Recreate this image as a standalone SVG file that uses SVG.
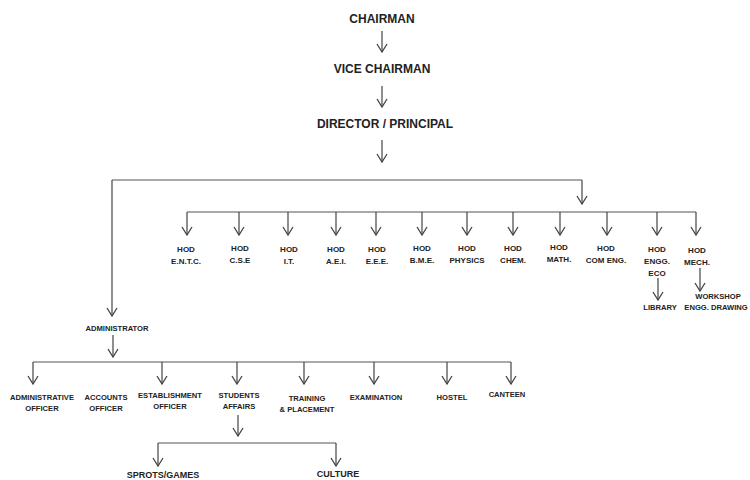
<svg xmlns="http://www.w3.org/2000/svg" width="750" height="480" viewBox="0 0 750 480">
<defs>
<marker id="ah" viewBox="0 0 10 12" refX="9" refY="6" markerWidth="10" markerHeight="12" markerUnits="userSpaceOnUse" orient="auto">
<path d="M1,1 L9,6 L1,11" fill="none" stroke="#444" stroke-width="1.3"/>
</marker>
<style>
.c{fill:none;stroke:#555;stroke-width:1.2}
.a{fill:none;stroke:#444;stroke-width:1.2;marker-end:url(#ah)}
text{font-family:"Liberation Sans",Arial,sans-serif;font-weight:bold;fill:#222;text-anchor:middle}
.big{font-size:12px}
.s{font-size:7.6px}
.h{font-size:8px}
.m{font-size:9px}
</style>
</defs>
<rect width="750" height="480" fill="#fff"/>
<g id="connectors">
<path class="a" d="M382,31 V52"/>
<path class="a" d="M382,86 V107"/>
<path class="a" d="M382,140 V162"/>
<path class="c" d="M582,180 H112"/>
<path class="a" d="M582,180 V204"/>
<path class="a" d="M112,180 V316"/>
<path class="c" d="M187,212 H696"/>
<path class="a" d="M187,212 V235"/>
<path class="a" d="M239,212 V235"/>
<path class="a" d="M288,212 V235"/>
<path class="a" d="M336,212 V235"/>
<path class="a" d="M376,212 V235"/>
<path class="a" d="M422,212 V235"/>
<path class="a" d="M467,212 V235"/>
<path class="a" d="M513,212 V235"/>
<path class="a" d="M560,212 V235"/>
<path class="a" d="M607,212 V235"/>
<path class="a" d="M657,212 V235"/>
<path class="a" d="M696,212 V235"/>
<path class="a" d="M658,278 V300"/>
<path class="a" d="M700,268 V291"/>
<path class="a" d="M113,335 V357"/>
<path class="c" d="M33,362 H511"/>
<path class="a" d="M33,362 V384"/>
<path class="a" d="M162,362 V384"/>
<path class="a" d="M237,362 V384"/>
<path class="a" d="M304,362 V384"/>
<path class="a" d="M374,362 V384"/>
<path class="a" d="M447,362 V384"/>
<path class="a" d="M511,362 V384"/>
<path class="a" d="M238,415 V436"/>
<path class="c" d="M158,443 H336"/>
<path class="a" d="M158,443 V466"/>
<path class="a" d="M336,443 V466"/>
</g>
<g id="chairman"><text class="big" x="382" y="23">CHAIRMAN</text></g>
<g id="vice-chairman"><text class="big" x="382" y="73">VICE CHAIRMAN</text></g>
<g id="director"><text class="big" x="385" y="128">DIRECTOR / PRINCIPAL</text></g>
<g id="hod-entc"><text class="h" x="186" y="252">HOD</text><text class="h" x="186" y="264">E.N.T.C.</text></g>
<g id="hod-cse"><text class="h" x="240" y="251">HOD</text><text class="h" x="240" y="263">C.S.E</text></g>
<g id="hod-it"><text class="h" x="289" y="252">HOD</text><text class="h" x="289" y="264">I.T.</text></g>
<g id="hod-aei"><text class="h" x="336" y="252">HOD</text><text class="h" x="336" y="264">A.E.I.</text></g>
<g id="hod-eee"><text class="h" x="377" y="252">HOD</text><text class="h" x="377" y="264">E.E.E.</text></g>
<g id="hod-bme"><text class="h" x="422" y="251">HOD</text><text class="h" x="422" y="263">B.M.E.</text></g>
<g id="hod-physics"><text class="h" x="467" y="251">HOD</text><text class="h" x="467" y="263">PHYSICS</text></g>
<g id="hod-chem"><text class="h" x="513" y="251">HOD</text><text class="h" x="513" y="263">CHEM.</text></g>
<g id="hod-math"><text class="h" x="559" y="250">HOD</text><text class="h" x="559" y="262">MATH.</text></g>
<g id="hod-comeng"><text class="h" x="606" y="251">HOD</text><text class="h" x="606" y="263">COM ENG.</text></g>
<g id="hod-enggeco"><text class="h" x="657" y="252">HOD</text><text class="h" x="657" y="264">ENGG.</text><text class="h" x="657" y="276">ECO</text></g>
<g id="hod-mech"><text class="h" x="697" y="253">HOD</text><text class="h" x="697" y="265">MECH.</text></g>
<g id="library"><text class="s" x="660" y="310">LIBRARY</text></g>
<g id="workshop"><text class="s" x="718" y="299">WORKSHOP</text><text class="s" x="716" y="310">ENGG. DRAWING</text></g>
<g id="administrator"><text class="s" x="117" y="331">ADMINISTRATOR</text></g>
<g id="admin-officer"><text class="s" x="42" y="400">ADMINISTRATIVE</text><text class="s" x="42" y="411">OFFICER</text></g>
<g id="accounts-officer"><text class="s" x="106" y="400">ACCOUNTS</text><text class="s" x="106" y="411">OFFICER</text></g>
<g id="establishment-officer"><text class="s" x="170" y="398">ESTABLISHMENT</text><text class="s" x="170" y="409">OFFICER</text></g>
<g id="students-affairs"><text class="s" x="239" y="398">STUDENTS</text><text class="s" x="239" y="409">AFFAIRS</text></g>
<g id="training"><text class="s" x="307" y="401">TRAINING</text><text class="s" x="307" y="412">&amp; PLACEMENT</text></g>
<g id="examination"><text class="s" x="376" y="400">EXAMINATION</text></g>
<g id="hostel"><text class="s" x="452" y="400">HOSTEL</text></g>
<g id="canteen"><text class="s" x="507" y="397">CANTEEN</text></g>
<g id="sports"><text class="m" x="163" y="478">SPROTS/GAMES</text></g>
<g id="culture"><text class="m" x="338" y="477">CULTURE</text></g>
</svg>
